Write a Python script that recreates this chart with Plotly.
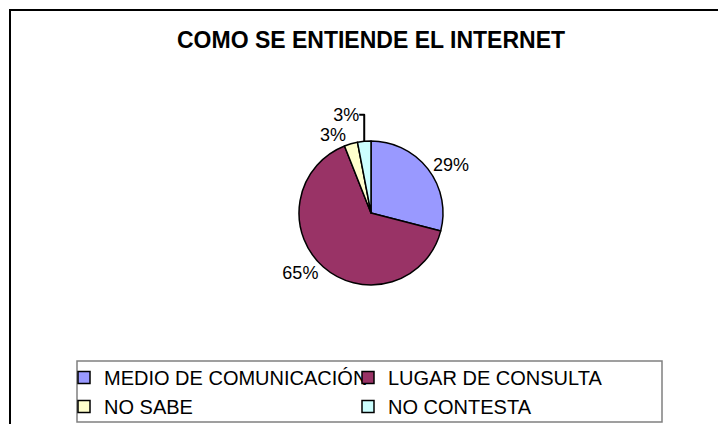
import plotly.graph_objects as go

categories = ["MEDIO DE COMUNICACIÓN", "LUGAR DE CONSULTA", "NO SABE", "NO CONTESTA"]
values = [29, 65, 3, 3]
colors = ["#9999FF", "#993366", "#FFFFCC", "#CCFFFF"]
title_text = "COMO SE ENTIENDE EL INTERNET"

W, H = 718, 424
cx, cy, r = 371, 213, 72
FONT = "Liberation Sans, Arial"

fig = go.Figure(go.Pie(
    labels=categories,
    values=values,
    sort=False,
    direction="clockwise",
    rotation=0,
    marker=dict(colors=colors, line=dict(color="black", width=1.5)),
    textinfo="percent",
    texttemplate="%{percent:.0%}",
    textposition="outside",
    textfont=dict(family=FONT, size=18, color="black"),
    domain=dict(x=[(cx - r) / W, (cx + r) / W], y=[1 - (cy + r) / H, 1 - (cy - r) / H]),
    showlegend=True,
))

fig.update_layout(
    width=W, height=H,
    margin=dict(l=0, r=0, t=0, b=0, autoexpand=False),
    paper_bgcolor="white",
    plot_bgcolor="white",
    font=dict(family=FONT, color="black"),
    title=dict(text="<b>" + title_text + "</b>", x=371 / W, xanchor="center",
               y=1 - 40 / H, yanchor="middle",
               font=dict(family=FONT, size=23, color="black")),
    legend=dict(
        orientation="h",
        x=64 / W, xanchor="left",
        y=1 - 358 / H, yanchor="top",
        borderwidth=0,
        bgcolor="rgba(0,0,0,0)",
        font=dict(family=FONT, size=20, color="black"),
        entrywidth=239, entrywidthmode="pixels",
        traceorder="normal",
        itemwidth=30,
    ),
    shapes=[
        dict(type="rect", xref="paper", yref="paper",
             x0=10 / W, x1=1.02, y0=-0.02, y1=1 - 10 / H,
             line=dict(color="black", width=2)),
        dict(type="rect", xref="paper", yref="paper",
             x0=77 / W, x1=662 / W, y0=1 - 422 / H, y1=1 - 361 / H,
             line=dict(color="#808080", width=1.5)),
    ],
)

fig.write_html("out.html", config={"displayModeBar": False},
               post_script="document.body.style.margin='0';document.body.style.overflow='hidden';")
